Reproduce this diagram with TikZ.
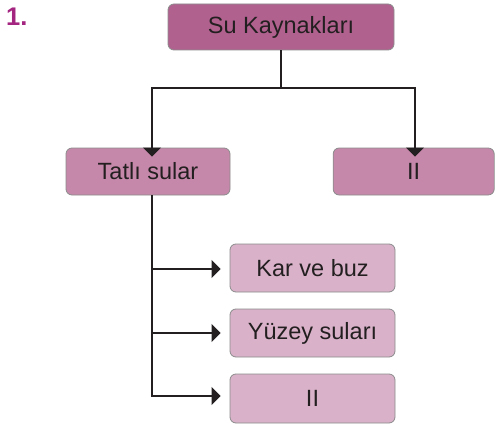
\documentclass[tikz,border=0pt]{standalone}
\usepackage{fontspec}
\setmainfont{Liberation Sans}
\usetikzlibrary{arrows.meta}
\definecolor{topfill}{HTML}{B0618E}
\definecolor{midfill}{HTML}{C688AA}
\definecolor{lowfill}{HTML}{D9B2C9}
\definecolor{boxline}{HTML}{8C8C8C}
\definecolor{ink}{HTML}{231F20}
\definecolor{numcol}{HTML}{A3257F}
\begin{document}
\begin{tikzpicture}[x=1pt,y=-1pt,
  box/.style={draw=boxline,line width=0.8pt,rounded corners=6pt,
    text=ink,font=\fontsize{23.5}{26}\selectfont,inner sep=0pt},
  arr/.style={draw=ink,line width=1.3pt,-{Triangle[width=18pt,length=9pt]}}]
\useasboundingbox (0,0) rectangle (495,425);
\node[font=\bfseries\fontsize{25.5}{28}\selectfont,text=numcol,anchor=north west,inner sep=0pt] (num) at (6,7.5) {1.};
\node[box,fill=topfill,minimum width=226pt,minimum height=46pt] (root) at (281,27) {Su Kaynakları};
\node[box,fill=midfill,minimum width=164pt,minimum height=47pt] (tatli) at (148,171.5) {Tatlı sular};
\node[box,fill=midfill,minimum width=161pt,minimum height=47pt] (tuzlu) at (413.7,171.5) {II};
\node[box,fill=lowfill,minimum width=165pt,minimum height=48pt] (kar) at (312.5,268) {Kar ve buz};
\node[box,fill=lowfill,minimum width=165pt,minimum height=48pt] (yuzey) at (312.5,333) {Yüzey suları};
\node[box,fill=lowfill,minimum width=165pt,minimum height=49pt] (yeralti) at (312.5,398.5) {II};
% branches from the root
\coordinate (split) at (281,88);
\draw[draw=ink,line width=1.3pt] (root.south) -- (split);
\draw[arr] (split) -| ([xshift=4pt,yshift=-9pt]tatli.north);
\draw[arr] (split) -| ([xshift=1.3pt,yshift=-9pt]tuzlu.north);
% branches from fresh water
\coordinate (trunk) at ([xshift=4pt]tatli.south);
\draw[arr] (trunk) |- ([xshift=-9pt,yshift=-1pt]kar.west);
\draw[arr] (trunk) |- ([xshift=-9pt]yuzey.west);
\draw[arr] (trunk) |- ([xshift=-9pt,yshift=2.5pt]yeralti.west);
\end{tikzpicture}
\end{document}
